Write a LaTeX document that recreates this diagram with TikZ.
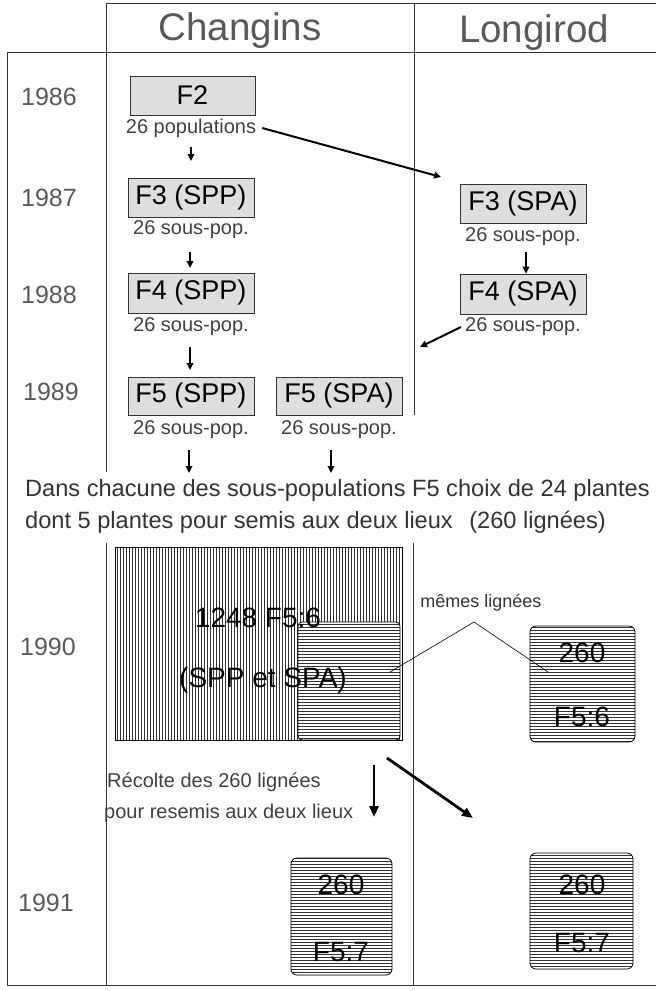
\documentclass[tikz,border=0pt]{standalone}
\usepackage{fontspec}
\setmainfont{Liberation Sans}
\usetikzlibrary{arrows.meta,patterns}
\tikzset{
  gbox/.style={draw=black!80, line width=0.7pt, fill=black!13, minimum width=126pt, minimum height=39pt, inner sep=0pt, font=\fontsize{27}{30}\selectfont},
  sub/.style={font=\fontsize{20}{22}\selectfont, text=black!75, inner sep=0pt},
  year/.style={font=\fontsize{25}{27}\selectfont, text=black!65, inner sep=0pt},
  head/.style={font=\fontsize{38.5}{40}\selectfont, text=black!65, inner sep=0pt},
  body/.style={font=\fontsize{23.6}{25}\selectfont, text=black!80, inner sep=0pt},
  rule/.style={line width=0.8pt, draw=black!80},
  arr/.style={-{Triangle[length=7pt,width=6.5pt]}, line width=2pt},
  bigarr/.style={-{Triangle[length=11pt,width=9pt]}, line width=2.8pt},
  hbox/.style={draw, line width=0.8pt, rounded corners=6pt, preaction={fill=white}, pattern=horizontal lines, pattern color=black!80, inner sep=0pt},
  big/.style={font=\fontsize{28}{30}\selectfont, inner sep=0pt},
}
\begin{document}
\begin{tikzpicture}[x=1pt,y=-1pt]
\useasboundingbox (0,0) rectangle (656,991);
% table rules
\draw[rule] (107,3) -- (656,3);
\draw[rule] (7,52) -- (656,52);
\draw[rule] (7,52) -- (7,985);
\draw[rule] (7,985) -- (656,985);
\draw[rule] (106,3) -- (106,472);
\draw[rule] (106,543) -- (106,985);
\draw[rule] (414,3) -- (414,415);
\draw[rule] (413,543) -- (413,985);
% headers
\node[head] (hc) at (240,31) {Changins};
\node[head] (hl) at (534,33) {Longirod};
% years
\node[year] (y86) at (49,97) {1986};
\node[year] (y87) at (49,198) {1987};
\node[year] (y88) at (49,295) {1988};
\node[year] (y89) at (51,392) {1989};
\node[year] (y90) at (48,647) {1990};
\node[year] (y91) at (46,903) {1991};
% boxes
\node[gbox, minimum width=125pt] (f2) at (192.5,95.5) {F2};
\node[sub] (lf2) at (191,128) {26 populations};
\node[gbox] (f3p) at (191,197.5) {F3 (SPP)};
\node[sub] (lf3p) at (191,230) {26 sous-pop.};
\node[gbox] (f3a) at (523,204) {F3 (SPA)};
\node[sub] (lf3a) at (523,237) {26 sous-pop.};
\node[gbox, minimum height=40pt] (f4p) at (191,293) {F4 (SPP)};
\node[sub] (lf4p) at (191,327) {26 sous-pop.};
\node[gbox, minimum height=40pt] (f4a) at (523,294) {F4 (SPA)};
\node[sub] (lf4a) at (523,327) {26 sous-pop.};
\node[gbox, minimum height=38pt] (f5p) at (191,396) {F5 (SPP)};
\node[sub] (lf5p) at (191,430) {26 sous-pop.};
\node[gbox, minimum height=38pt] (f5a) at (339,396) {F5 (SPA)};
\node[sub] (lf5a) at (339,430) {26 sous-pop.};
% small arrows
\coordinate (c1) at (441,177);
\coordinate (c2) at (420,347);
\draw[arr] (191,147) -- (191,161);
\draw[arr] (lf2.east) ++(6,0) -- (c1);
\draw[arr] (190,252) -- (190,268);
\draw[arr] (526,252) -- (f4a.north -| 526,0);
\draw[arr] (lf4a.west) ++(-4,0) -- (c2);
\draw[arr] (190,347) -- (190,370);
% text
\node[body, anchor=west] (t1) at (25,490) {Dans chacune des sous-populations F5 choix de 24 plantes};
\node[body, anchor=west] (t2) at (25,522) {dont 5 plantes pour semis aux deux lieux\hspace{10pt} (260 lignées)};
\draw[arr] (189,450) -- (189,473);
\draw[arr] (331,450) -- (331,473);
% 1990
\node[draw, line width=0.6pt, pattern=vertical lines, pattern color=black!80, minimum width=287pt, minimum height=193pt, inner sep=0pt] (bigr) at (258.5,643.5) {};
\node[hbox, rounded corners=4pt, minimum width=102pt, minimum height=118pt] (inr) at (349,681) {};
\node[big] (t1248) at (258,618) {1248 F5:6};
\node[big] (tspp) at (263,680) {(SPP et SPA)};
\node[font=\fontsize{18}{20}\selectfont, text=black!80, inner sep=0pt] (mem) at (481,603) {mêmes lignées};
\coordinate (apex) at (474,622);
\coordinate (mA) at (390,672);
\coordinate (mB) at (548,672);
\node[hbox, minimum width=105pt, minimum height=116pt] (r90) at (582.5,684) {};
\node[big] (r90a) at (582,653) {260};
\node[big] (r90b) at (582,717) {F5:6};
\draw[line width=0.6pt] (mA) -- (apex) -- (mB);
% harvest
\node[sub, anchor=west] (rec1) at (107,782) {Récolte des 260 lignées};
\node[sub, anchor=west] (rec2) at (104,813) {pour resemis aux deux lieux};
\coordinate (b1s) at (374,765);
\coordinate (b1e) at (374,817);
\coordinate (b2s) at (387,758);
\coordinate (b2e) at (473,818);
\draw[bigarr] (b1s) -- (b1e);
\draw[bigarr] (b2s) -- (b2e);
% 1991
\node[hbox, minimum width=101pt, minimum height=117pt] (l91) at (341.5,916.5) {};
\node[big] (l91a) at (341,885) {260};
\node[big] (l91b) at (341,952) {F5:7};
\node[hbox, minimum width=103pt, minimum height=116pt] (r91) at (581.5,911) {};
\node[big] (r91a) at (582,885) {260};
\node[big] (r91b) at (582,943) {F5:7};
\end{tikzpicture}
\end{document}
